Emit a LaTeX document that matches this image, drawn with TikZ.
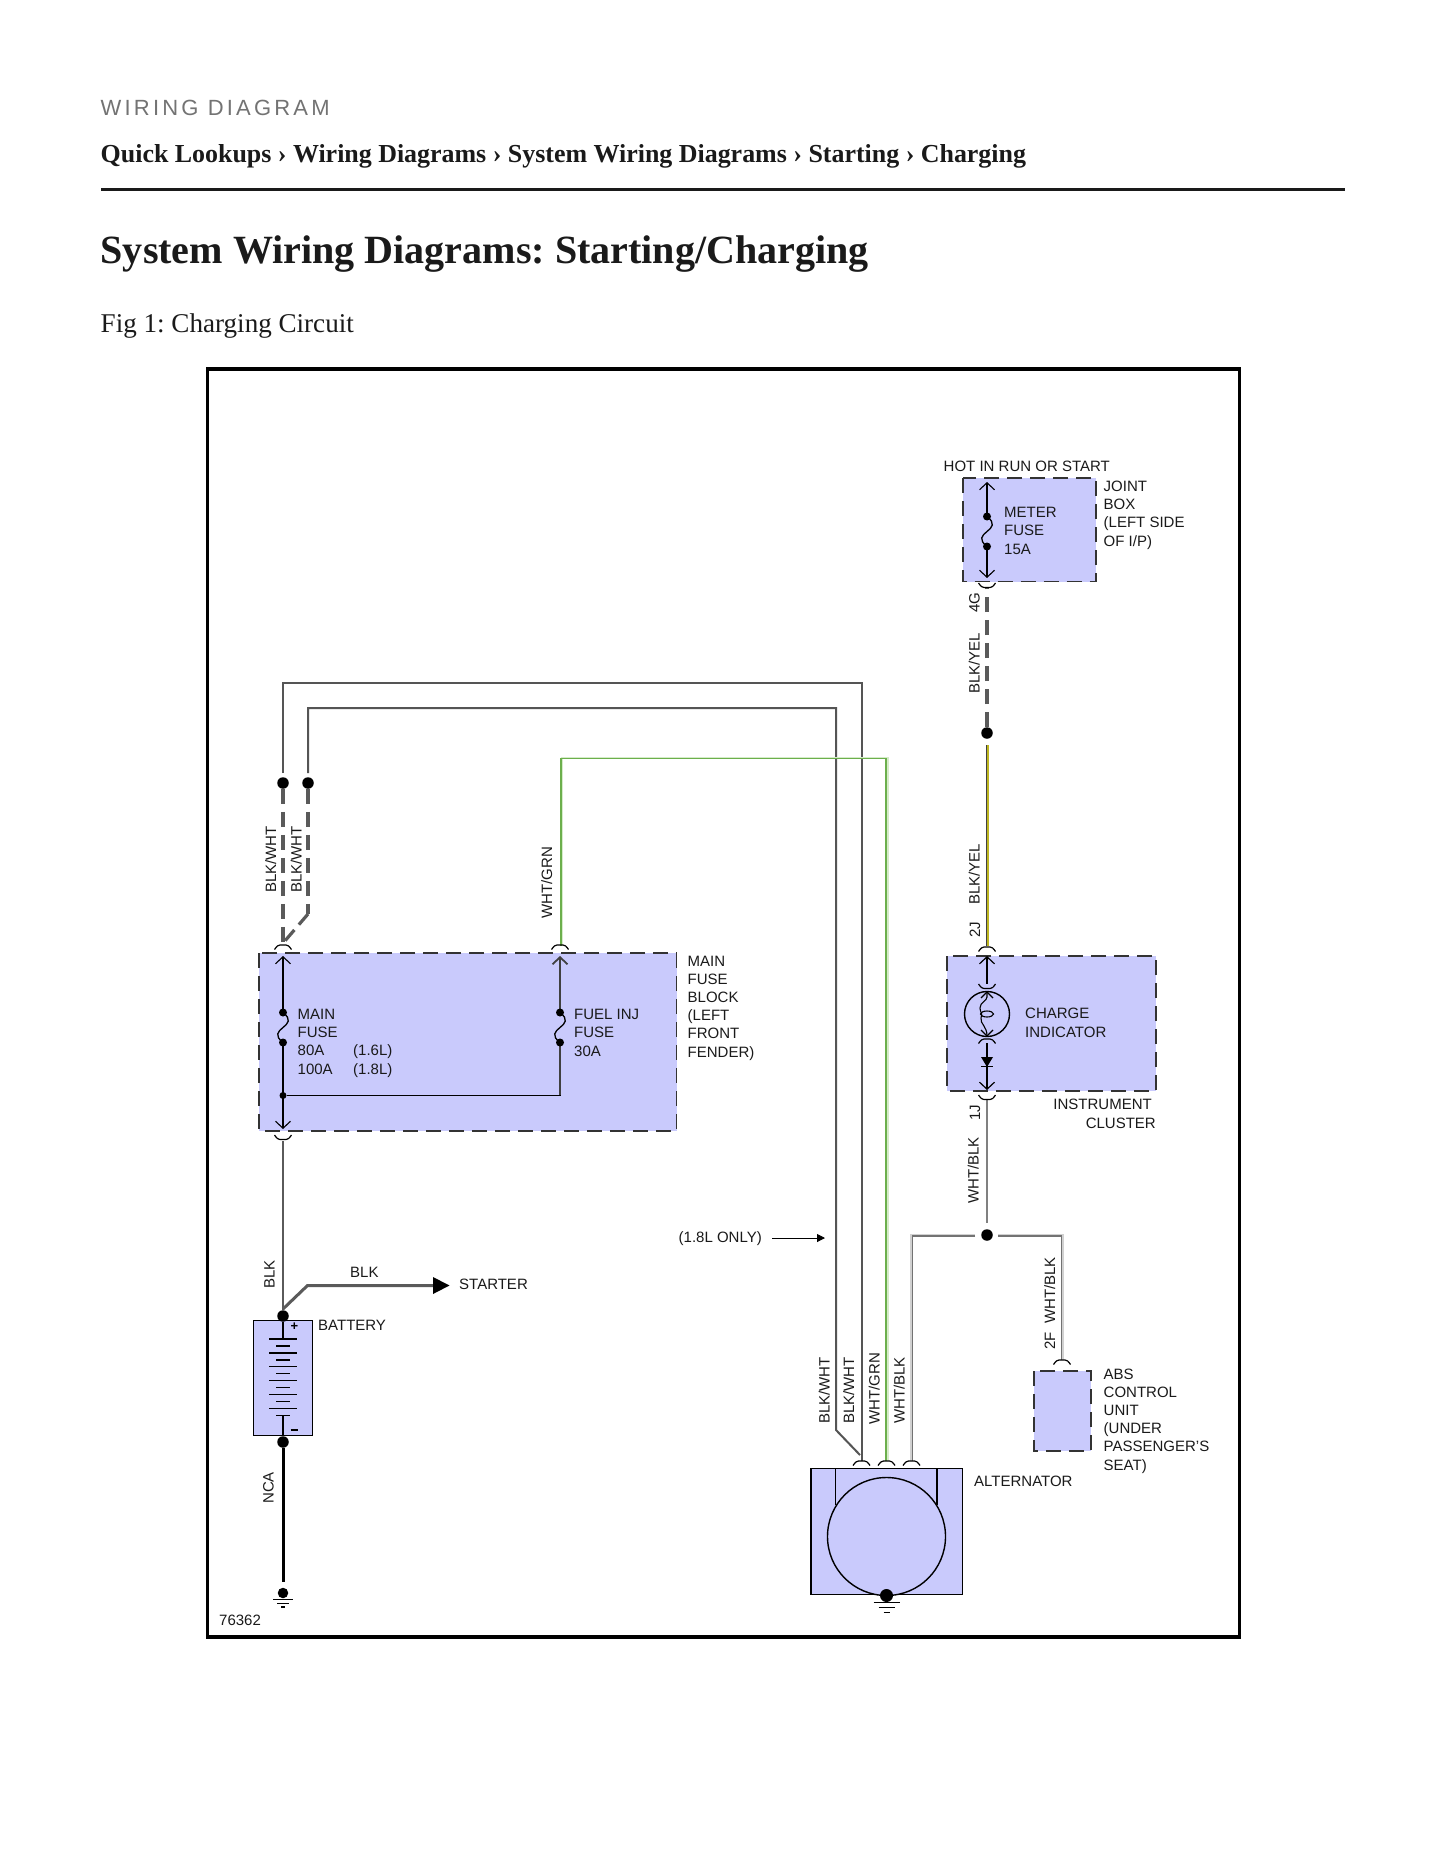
\documentclass[tikz,border=0pt]{standalone}
\usepackage{fontspec}
\setmainfont{Liberation Serif}
\setsansfont{Liberation Sans}
\usetikzlibrary{arrows.meta}
\frenchspacing
\definecolor{boxfill}{HTML}{C9CAFC}
\definecolor{wiregray}{HTML}{5A5A5A}
\definecolor{wirethin}{HTML}{555555}
\definecolor{grnwire}{HTML}{6CAF4C}
\definecolor{grnhalo}{HTML}{D5ECC9}
\definecolor{yelwire}{HTML}{BDB520}
\definecolor{ink}{HTML}{1A1A1A}
\tikzset{
  x=1pt,y=-1pt,
  lbl/.style={font=\sffamily\fontsize{15}{18.2}\selectfont,inner sep=0pt,anchor=base west,align=left,text=ink},
  lblr/.style={font=\sffamily\fontsize{15}{18.2}\selectfont,inner sep=0pt,anchor=base east,align=right,text=ink},
  vlbl/.style={font=\sffamily\fontsize{15}{18}\selectfont,inner sep=0pt,anchor=base west,rotate=90,text=ink},
  dashbox/.style={fill=boxfill,draw=black!80,line width=1.6pt,dash pattern=on 15pt off 8pt},
  solidbox/.style={fill=boxfill,draw=black,line width=1.2pt},
  dotn/.style={circle,fill=black,inner sep=0pt,minimum size=#1},
  dotn/.default=11.5pt,
  thickdash/.style={draw=wiregray,line width=3.2pt,dash pattern=on 15pt off 8pt},
  wirea/.style={draw=wirethin,line width=2pt},
  wireb/.style={draw=black,line width=1.1pt},
  pin/.style={draw=black,line width=1.1pt,{Straight Barb[length=7pt,width=15pt]}-{Straight Barb[length=7pt,width=15pt]}},
  capline/.style={draw=black,line width=1.2pt},
  fuse/.pic={\draw[line width=1.3pt] (0,0) .. controls (9,7) and (5,11) .. (0,15) .. controls (-5,19) and (-9,23) .. (0,30);},
}
\newcommand{\capup}[2]{\draw[capline] (#1-8.5,#2+4.5) .. controls (#1-6,#2+1) and (#1-5,#2) .. (#1-3,#2) -- (#1+3,#2) .. controls (#1+5,#2) and (#1+6,#2+1) .. (#1+8.5,#2+4.5);}
\newcommand{\capdn}[2]{\draw[capline] (#1-8.5,#2) .. controls (#1-6,#2+3.5) and (#1-5,#2+4.5) .. (#1-3,#2+4.5) -- (#1+3,#2+4.5) .. controls (#1+5,#2+4.5) and (#1+6,#2+3.5) .. (#1+8.5,#2);}
\begin{document}
\begin{tikzpicture}
\useasboundingbox (0,0) rectangle (1445,1870);
\fill[white] (0,0) rectangle (1445,1870);
% page header
\node[inner sep=0pt,anchor=base west,text=black!55] (hdr) at (100.5,116) {\sffamily\fontsize{22}{24}\selectfont\addfontfeature{LetterSpace=14.5}WIRING DIAGRAM};
\node[inner sep=0pt,anchor=base west,text=ink] (crumb) at (100.5,163) {\fontsize{25.93}{30}\selectfont\bfseries Quick Lookups › Wiring Diagrams › System Wiring Diagrams › Starting › Charging};
\coordinate (ruleL) at (101,189.5); \coordinate (ruleR) at (1345,189.5);
\draw[line width=3pt,ink] (ruleL) -- (ruleR);
\node[inner sep=0pt,anchor=base west,text=ink] (title) at (100.5,263) {\fontsize{40.06}{46}\selectfont\bfseries System Wiring Diagrams: Starting/Charging};
\node[inner sep=0pt,anchor=base west,text=ink] (fig) at (100.5,332) {\fontsize{27.1}{32}\selectfont Fig 1: Charging Circuit};
% frame
\draw[line width=3.2pt,black] (207.5,369) rectangle (1239.5,1637);
% boxes
\path[dashbox] (963,478) rectangle (1096,581.5);
\path[dashbox] (259,953) rectangle (676.5,1131);
\path[dashbox] (947,956) rectangle (1156,1091);
\path[dashbox] (1034,1371) rectangle (1091,1451);
\path[solidbox,line width=1pt] (253.5,1320) rectangle (312.5,1435.5);
\path[solidbox] (811,1468.5) rectangle (962.5,1594.5);
% named points
\node[dotn] (dYel) at (987,733) {};
\node[dotn] (dL) at (283,783) {};
\node[dotn] (dR) at (308,783) {};
\node[dotn] (dJ) at (987,1235) {};
\node[dotn] (dBatP) at (283,1316) {};
\node[dotn] (dBatN) at (283,1442) {};
\node[dotn=10.5pt] (dG1) at (283,1593) {};
% top wires
\coordinate (a1) at (283,773); \coordinate (a2) at (283,683); \coordinate (a3) at (862,683); \coordinate (a4) at (862,1461);
\draw[wirea] (a1) -- (a2) -- (a3) -- (a4);
\coordinate (b1) at (308,773); \coordinate (b2) at (308,708); \coordinate (b3) at (836,708); \coordinate (b4) at (836,1430); \coordinate (b5) at (860,1455);
\draw[wirea] (b1) -- (b2) -- (b3) -- (b4) -- (b5);
\coordinate (c1h) at (562,946); \coordinate (c2h) at (562,757.5); \coordinate (c3h) at (887.5,757.5); \coordinate (c4h) at (887.5,1461);
\draw[draw=grnhalo,line width=2pt] (c1h) -- (c2h) -- (c3h) -- (c4h);
\coordinate (c1) at (561,946); \coordinate (c2) at (561,758.5); \coordinate (c3) at (886,758.5); \coordinate (c4) at (886,1461);
\draw[draw=grnwire,line width=1.5pt] (c1) -- (c2) -- (c3) -- (c4);
% dashed drop wires
\coordinate (e1) at (283,945); \coordinate (e2) at (308,914); \coordinate (e3) at (284,942);
\draw[thickdash] (dL) -- (e1);
\draw[thickdash] (dR) -- (e2);
\draw[draw=wiregray,line width=3.2pt,dash pattern=on 14pt off 7pt] (e2) -- (e3);
% meter wire
\coordinate (m1) at (987,588);
\draw[thickdash] (dYel) -- (m1);
\coordinate (y1) at (988,745); \coordinate (y2) at (988,946);
\draw[draw=yelwire,line width=1.5pt] (y1) -- (y2);
\coordinate (y3) at (986.8,745); \coordinate (y4) at (986.8,946);
\draw[draw=black!75,line width=1.3pt] (y3) -- (y4);
% WHT/BLK
\coordinate (j1) at (987,1099); \coordinate (j2) at (987,1223);
\draw[draw=black!50,line width=2pt] (j1) -- (j2);
\coordinate (k1) at (975,1235); \coordinate (k2) at (911.5,1235); \coordinate (k3) at (911.5,1461);
\draw[line width=3pt,black!18] (k1) -- (k2) -- (k3);
\coordinate (k1d) at (975,1236); \coordinate (k2d) at (912.5,1236); \coordinate (k3d) at (912.5,1461);
\draw[line width=1.3pt,black!55] (k1d) -- (k2d) -- (k3d);
\coordinate (k4) at (998,1235); \coordinate (k5) at (1062.5,1235); \coordinate (k6) at (1062.5,1360);
\draw[line width=3pt,black!18] (k4) -- (k5) -- (k6);
\coordinate (k4d) at (998,1236); \coordinate (k5d) at (1061.5,1236); \coordinate (k6d) at (1061.5,1360);
\draw[line width=1.3pt,black!55] (k4d) -- (k5d) -- (k6d);
% joint box
\coordinate (p1t) at (987,482); \coordinate (p1b) at (987,578);
\draw[pin] (p1t) -- (p1b);
\fill[boxfill] (984,519) rectangle (990,543);
\node[dotn=8pt] (f1a) at (987,516.5) {}; \node[dotn=8pt] (f1b) at (987,546.5) {};
\pic at (987,516.5) {fuse};
\capdn{987}{583}
% main fuse block
\coordinate (p2t) at (283,956); \coordinate (p2b) at (283,1129);
\draw[pin] (p2t) -- (p2b);
\fill[boxfill] (280,1015) rectangle (286,1039);
\node[dotn=8pt] (f2a) at (283,1012.5) {}; \node[dotn=8pt] (f2b) at (283,1042.5) {};
\pic at (283,1012.5) {fuse};
\coordinate (p3t) at (560,956); \coordinate (p3b) at (560,1095.5);
\draw[draw=black!75,line width=1.8pt,{Straight Barb[length=7pt,width=15pt]}-] (p3t) -- (p3b);
\fill[boxfill] (557,1015) rectangle (563,1039);
\node[dotn=8pt] (f3a) at (560,1012.5) {}; \node[dotn=8pt] (f3b) at (560,1042.5) {};
\pic at (560,1012.5) {fuse};
\node[dotn=7pt] (jmain) at (283,1095.5) {};
\draw[wireb] (jmain) -- (560.9,1095.5);
\capup{283}{945}\capup{560}{945}\capdn{283}{1135}
% main wire below
\coordinate (w1) at (283,1141);
\draw[draw=wiregray,line width=2.8pt] (w1) -- (dBatP);
\coordinate (w2) at (283,1309); \coordinate (w3) at (307.5,1285.5); \coordinate (w4) at (436,1285.5);
\draw[draw=wiregray,line width=3pt] (w2) -- (w3) -- (w4);
\fill[black] (433,1277) -- (449.5,1285.5) -- (433,1294) -- cycle;
% battery
\draw[line width=1.1pt] (dBatP) -- (283,1339);
\draw[line width=2pt] (283,1415) -- (dBatN);
\foreach \yy/\hw/\lw in {1339/14/2.2,1346/7/2.2,1353/14/2.2,1360/7/2.2,1366/14/1,1373/7/1,1380/14/1,1387/7/1,1394/14/1,1401/7/1,1408/14/1,1415/7/1}
  \draw[line width=\lw pt] (283-\hw,\yy) -- (283+\hw,\yy);
\node[inner sep=0pt,font=\sffamily\bfseries\fontsize{13}{13}\selectfont] (plus) at (294.5,1327) {+};
\draw[line width=2pt] (290.5,1430) -- (297.5,1430);
% NCA
\coordinate (n1) at (283,1447.5); \coordinate (n2) at (283,1582);
\draw[line width=3pt] (n1) -- (n2);
\draw[line width=1.1pt] (273,1599.5) -- (293,1599.5) (277,1603.5) -- (289,1603.5) (281,1607) -- (285,1607);
% indicator
\coordinate (q1) at (987,956); \coordinate (q2) at (987,984);
\draw[draw=black,line width=1.2pt,{Straight Barb[length=7pt,width=15pt]}-] (q1) -- (q2);
\capdn{987}{984}
\node[circle,draw=black,line width=1.4pt,minimum size=45pt,inner sep=0pt] (lamp) at (987,1014) {};
\draw[line width=1.1pt] (981,998) -- (987,992) -- (993,998);
\draw[line width=1.1pt] (981,1030) -- (987,1036) -- (993,1030);
\draw[line width=1.1pt] (987,992) -- (987,997) .. controls (987,1001) and (980,1002) .. (980,1008) .. controls (980,1013) and (983,1012) .. (981,1018) .. controls (980,1024) and (987,1026) .. (987,1036);
\draw[line width=1.1pt] (987,1014) ellipse [x radius=6.5,y radius=3];
\capup{987}{1039}
\coordinate (q3) at (987,1043); \coordinate (q4) at (987,1090);
\draw[draw=black,line width=1.2pt,-{Straight Barb[length=7pt,width=15pt]}] (q3) -- (q4);
\fill[black] (981,1057) -- (993,1057) -- (987,1067) -- cycle;
\draw[line width=1.1pt] (981,1066.5) -- (993,1066.5);
\capup{987}{947}\capdn{987}{1095}
% alternator
\draw[line width=1.1pt] (835.5,1468) -- (835.5,1505) (937,1468) -- (937,1505);
\node[circle,draw=black,line width=1.4pt,fill=boxfill,minimum size=118pt,inner sep=0pt] (altc) at (886.5,1536.5) {};
\node[dotn=13pt] (dG2) at (886.5,1595.5) {};
\capup{861.5}{1461}\capup{886.5}{1461}\capup{911.5}{1461}\capup{1062}{1360}
\draw[line width=1.3pt] (873.5,1602.5) -- (899.5,1602.5);
\draw[line width=1.5pt] (878.5,1607.5) -- (894.5,1607.5);
\draw[line width=1.5pt] (883.5,1612.5) -- (889.5,1612.5);
% labels
\node[lbl] (l1) at (943.5,471) {HOT IN RUN OR START};
\node[lbl] (l2) at (1103.5,546) {JOINT\\BOX\\(LEFT SIDE\\OF I/P)};
\node[lbl] (l3) at (1004,554) {METER\\FUSE\\15A};
\node[lbl] (l4) at (687.5,1057) {MAIN\\FUSE\\BLOCK\\(LEFT\\FRONT\\FENDER)};
\node[lbl] (l5) at (297.5,1074) {MAIN\\FUSE\\80A\\100A};
\node[lbl] (l6) at (353,1074) {(1.6L)\\(1.8L)};
\node[lbl] (l7) at (574,1056) {FUEL INJ\\FUSE\\30A};
\node[lbl] (l8) at (1025,1037) {CHARGE\\INDICATOR};
\node[lblr] (l9) at (1156,1128) {INSTRUMENT\rule{4pt}{0pt}\\CLUSTER};
\node[lbl] (l10) at (678.5,1242.5) {(1.8L ONLY)};
\coordinate (o1) at (772,1238); \coordinate (o2) at (825,1238);
\draw[line width=1pt,-{Triangle[length=8pt,width=8pt]}] (o1) -- (o2);
\node[lbl] (l11) at (350,1277) {BLK};
\node[lbl] (l12) at (459,1289) {STARTER};
\node[lbl] (l13) at (318,1330) {BATTERY};
\node[lbl] (l14) at (219,1625) {76362};
\node[lbl] (l15) at (974,1486) {ALTERNATOR};
\node[lbl] (l16) at (1103.5,1470) {ABS\\CONTROL\\UNIT\\(UNDER\\PASSENGER'S\\SEAT)};
% rotated labels
\node[vlbl] (v1) at (979.5,613) {4G};
\node[vlbl] (v2) at (979.5,694) {BLK/YEL};
\node[vlbl] (v3) at (979.5,905) {BLK/YEL};
\node[vlbl] (v4) at (980,938) {2J};
\node[vlbl] (v5) at (980,1121) {1J};
\node[vlbl] (v6) at (978.5,1204) {WHT/BLK};
\node[vlbl] (v7) at (276,893) {BLK/WHT};
\node[vlbl] (v8) at (301.5,893) {BLK/WHT};
\node[vlbl] (v9) at (552,919) {WHT/GRN};
\node[vlbl] (v10) at (274.5,1289) {BLK};
\node[vlbl] (v11) at (273.5,1504) {NCA};
\node[vlbl] (v12) at (829.5,1424) {BLK/WHT};
\node[vlbl] (v13) at (854,1424) {BLK/WHT};
\node[vlbl] (v14) at (879.5,1425) {WHT/GRN};
\node[vlbl] (v15) at (904.5,1424) {WHT/BLK};
\node[vlbl] (v16) at (1055,1350) {2F};
\node[vlbl] (v17) at (1055,1324) {WHT/BLK};
\end{tikzpicture}
\end{document}
